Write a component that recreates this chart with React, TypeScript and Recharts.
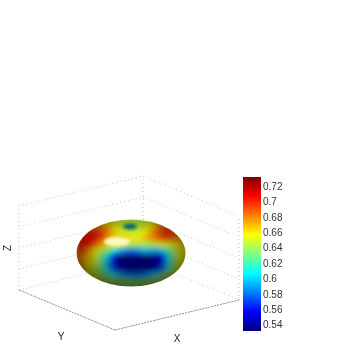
import { BarChart, Bar, Scatter, ScatterChart, XAxis, YAxis, ReferenceDot, ReferenceLine } from "recharts"

const FONT = "'Liberation Sans', Arial, sans-serif"

// surface colour samples on a 6px screen grid
const sampleXs = [78, 84, 90, 96, 102, 108, 114, 120, 126, 132, 138, 144, 150, 156, 162, 168, 174, 180, 186]
const sampleYs = [221, 227, 233, 239, 245, 251, 257, 263, 269, 275, 281, 287]
const surfaceLevels = [
  [.68, .68, .68, .67, .665, .66, .655, .65, .65, .65, .65, .65, .655, .665, .675, .68, .68, .68, .68],
  [.69, .69, .69, .685, .675, .67, .66, .65, .645, .64, .645, .65, .66, .67, .685, .69, .685, .68, .68],
  [.69, .695, .70, .70, .695, .68, .665, .655, .65, .65, .65, .655, .67, .685, .695, .70, .69, .68, .67],
  [.69, .705, .71, .705, .69, .675, .665, .665, .665, .66, .66, .665, .675, .68, .69, .69, .685, .675, .67],
  [.70, .705, .70, .685, .67, .66, .655, .65, .645, .64, .64, .64, .64, .645, .65, .655, .66, .665, .665],
  [.695, .69, .675, .66, .645, .63, .61, .595, .585, .58, .585, .595, .595, .59, .60, .62, .64, .655, .66],
  [.685, .675, .665, .65, .63, .60, .565, .54, .535, .535, .535, .535, .535, .54, .56, .60, .635, .655, .66],
  [.68, .67, .66, .65, .625, .59, .55, .532, .532, .532, .532, .532, .532, .535, .555, .60, .635, .655, .66],
  [.67, .665, .655, .645, .625, .60, .575, .55, .535, .535, .535, .535, .54, .555, .58, .61, .64, .655, .655],
  [.66, .655, .655, .65, .64, .625, .61, .595, .585, .58, .58, .585, .595, .61, .63, .645, .655, .655, .655],
  [.655, .655, .655, .655, .65, .645, .64, .635, .63, .63, .63, .635, .64, .645, .65, .655, .655, .655, .655],
  [.65, .65, .65, .65, .65, .65, .65, .65, .645, .645, .645, .65, .65, .65, .65, .65, .65, .65, .65],
]

const colorTicks = [0.54, 0.56, 0.58, 0.6, 0.62, 0.64, 0.66, 0.68, 0.7, 0.72]
const colorDomain = [0.532, 0.732]
const colorbarData = [{ name: "z", span: colorDomain }]
const jetStops = [
  [0, "#7f0000"], [0.125, "#ff0000"], [0.375, "#ffff00"], [0.625, "#00ffff"], [0.875, "#0000ff"], [1, "#00007f"],
] as const

// box in axis units, 0..1 on every side
const gridLevels = [0, 0.25, 0.5, 0.75, 1]
const wallCorners = [[0, 1], [0, 0], [1, 0]]
const floorCorners = [[0, 1], [1, 1], [1, 0]]

const ORIGIN = { x: 143, y: 260 }
const EX = { x: 96, y: 40 }
const EY = { x: -124, y: 30 }
const EZ = { x: 0, y: -84 }

function project(u: number, v: number, w: number) {
  return { x: ORIGIN.x + u * EX.x + v * EY.x, y: ORIGIN.y + u * EX.y + v * EY.y + w * EZ.y }
}

const BLOB = { cx: 131, cy: 253, rx: 54.5, ry: 33.5 }

function jet(level: number, shade: number) {
  const t = (level - colorDomain[0]) / (colorDomain[1] - colorDomain[0])
  const ch = (c: number) => Math.round(255 * shade * Math.min(1, Math.max(0, 1.5 - Math.abs(4 * t - c))))
  return `rgb(${ch(3)},${ch(2)},${ch(1)})`
}

const surfacePoints = sampleYs.flatMap((y, r) => sampleXs.map((x, c) => ({ x, y, level: surfaceLevels[r][c] })))

function SurfaceCell(p: any) {
  const dx = (p.payload.x - BLOB.cx) / BLOB.rx
  const dy = (p.payload.y - BLOB.cy) / BLOB.ry
  const r2 = dx * dx + dy * dy
  // light comes from above, so the lower half and the rim go darker
  const rim = Math.max(0.6, 1 - 0.4 * r2 * Math.sqrt(r2))
  const lower = dy > -0.5 ? 1 - 0.3 * (dy + 0.5) : 1
  return <rect x={p.cx - 3.3} y={p.cy - 3.3} width={6.6} height={6.6} fill={jet(p.payload.level, rim * lower)} />
}

const axisText = (label: string, rotate = false) => (p: any) => (
  <text
    x={p.cx}
    y={p.cy}
    textAnchor="middle"
    dominantBaseline="middle"
    fontSize={10}
    fontFamily={FONT}
    fill="#222"
    transform={rotate ? `rotate(-90 ${p.cx} ${p.cy})` : undefined}
  >
    {label}
  </text>
)

const glow = (rx: number, ry: number, fill: string, opacity: number) => (p: any) => (
  <ellipse cx={p.cx} cy={p.cy} rx={rx} ry={ry} fill={fill} opacity={opacity} filter="url(#spotSoft)" />
)

export default function App() {
  const wallLines = gridLevels.flatMap((w) =>
    wallCorners.slice(1).map((c, i) => [project(wallCorners[i][0], wallCorners[i][1], w), project(c[0], c[1], w)]),
  )
  const uprights = wallCorners.map((c) => [project(c[0], c[1], 0), project(c[0], c[1], 1)])
  const floorLines = floorCorners.slice(1).map((c, i) => [
    project(floorCorners[i][0], floorCorners[i][1], 0),
    project(c[0], c[1], 0),
  ])

  return (
    <div style={{ position: "absolute", left: 0, top: 0, width: 346, height: 346, background: "#fff", overflow: "hidden" }}>
      <style>{`.surface{filter:url(#surfaceSoft);clip-path:url(#blobClip)}`}</style>
      <div style={{ position: "absolute", left: 0, top: 0, filter: "blur(0.35px)" }}>
        <ScatterChart width={346} height={346} margin={{ top: 0, right: 0, bottom: 0, left: 0 }}>
          <defs>
            <filter id="surfaceSoft" x="-10%" y="-10%" width="120%" height="120%">
              <feGaussianBlur stdDeviation="2.7" />
            </filter>
            <filter id="spotSoft" x="-50%" y="-80%" width="200%" height="260%">
              <feGaussianBlur stdDeviation="1.8" />
            </filter>
            <clipPath id="blobClip">
              <ellipse cx={BLOB.cx} cy={BLOB.cy} rx={BLOB.rx} ry={BLOB.ry} />
            </clipPath>
          </defs>
          <XAxis type="number" dataKey="x" domain={[0, 346]} hide />
          <YAxis type="number" dataKey="y" domain={[0, 346]} reversed hide />
          {[...wallLines, ...uprights].map((seg, i) => (
            <ReferenceLine key={`w${i}`} segment={seg} stroke="#c2c2c2" strokeDasharray="1 3" />
          ))}
          {floorLines.map((seg, i) => (
            <ReferenceLine key={`f${i}`} segment={seg} stroke="#8c8c8c" strokeDasharray="2 1" />
          ))}
          <Scatter className="surface" data={surfacePoints} isAnimationActive={false} shape={SurfaceCell} />
          <ReferenceDot x={117} y={241.5} r={1} shape={glow(13, 4.5, "#fffbc8", 0.95)} />
          <ReferenceDot x={130} y={226.5} r={1} shape={glow(7, 3, "#086a68", 1)} />
          <ReferenceDot x={8} y={248} r={1} shape={axisText("Z", true)} />
          <ReferenceDot x={61} y={337} r={1} shape={axisText("Y")} />
          <ReferenceDot x={177} y={339} r={1} shape={axisText("X")} />
        </ScatterChart>
      </div>
      <div style={{ position: "absolute", left: 0, top: 0, filter: "blur(0.35px)" }}>
        <BarChart
          width={346}
          height={346}
          data={colorbarData}
          barCategoryGap={0}
          margin={{ top: 177, right: 0, bottom: 15, left: 243 }}
        >
          <defs>
            <linearGradient id="jetBar" x1="0" y1="0" x2="0" y2="1">
              {jetStops.map(([offset, color]) => (
                <stop key={offset} offset={offset} stopColor={color} />
              ))}
            </linearGradient>
          </defs>
          <XAxis dataKey="name" hide />
          <YAxis
            orientation="right"
            width={85}
            type="number"
            domain={colorDomain}
            ticks={colorTicks}
            interval={0}
            allowDataOverflow
            axisLine={false}
            tickLine={false}
            tickSize={0}
            tickMargin={2}
            tick={{ fontSize: 10, fontFamily: FONT, fill: "#333", textAnchor: "start" }}
          />
          <Bar dataKey="span" fill="url(#jetBar)" isAnimationActive={false} />
        </BarChart>
      </div>
    </div>
  )
}
